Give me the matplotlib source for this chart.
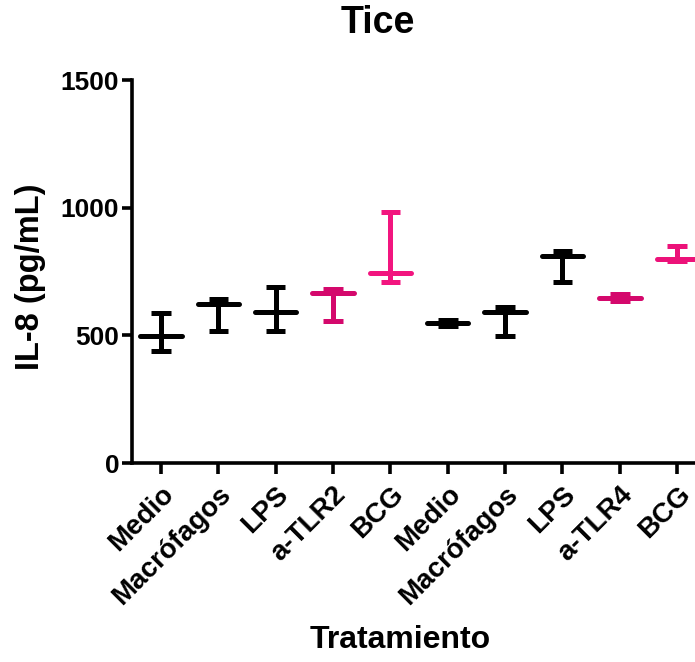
import numpy as np
import matplotlib.pyplot as plt

plt.rcParams['font.family'] = ['Liberation Sans', 'DejaVu Sans']
plt.rcParams['font.weight'] = 'bold'

# min / median / max per treatment
labels = ['Medio', 'Macrófagos', 'LPS', 'a-TLR2', 'BCG',
          'Medio', 'Macrófagos', 'LPS', 'a-TLR4', 'BCG']
mins = [439, 517, 517, 555, 708, 535, 497, 709, 635, 790]
medians = [499, 623, 593, 665, 743, 548, 591, 813, 648, 800]
maxs = [586, 642, 688, 681, 982, 562, 610, 829, 662, 851]
colors = ['black', 'black', 'black', '#D4086C', '#F2157F',
          'black', 'black', 'black', '#D4086C', '#EC1279']

fig = plt.figure(figsize=(6.95, 6.62), dpi=100)
ax = fig.add_axes([0.1895, 0.3006, 0.8105, 0.5783])

x = np.arange(len(labels))
lw = 3.6
for i in x:
    c = colors[i]
    ax.plot([i, i], [mins[i], maxs[i]], color=c, lw=lw, solid_capstyle='butt')
    for v in (mins[i], maxs[i]):
        ax.plot([i - 0.17, i + 0.17], [v, v], color=c, lw=lw, solid_capstyle='butt')
    ax.plot([i - 0.36, i + 0.36], [medians[i], medians[i]], color=c, lw=lw,
            solid_capstyle='round')

ax.set_xlim(-0.51, 9.31)
ax.set_ylim(0, 1500)
ax.set_yticks([0, 500, 1000, 1500])
ax.set_xticks(x)
ax.set_xticklabels(labels, rotation=45, ha='right', va='top', rotation_mode='anchor')

for s in ['top', 'right']:
    ax.spines[s].set_visible(False)
for s in ['left', 'bottom']:
    ax.spines[s].set_linewidth(2.6)
ax.tick_params(axis='both', width=2.6, length=7, labelsize=19)
ax.tick_params(axis='y', pad=2)
ax.tick_params(axis='x', length=8, pad=5, labelsize=20)

ax.set_ylabel('IL-8 (pg/mL)', fontsize=23.5, fontweight='bold', va='center')
ax.yaxis.set_label_coords(-0.18, 0.486)
ax.set_xlabel('Tratamiento', fontsize=23, fontweight='bold', va='center')
ax.xaxis.set_label_coords(0.476, -0.462)
fig.text(0.544, 0.965, 'Tice', fontsize=27, fontweight='bold', ha='center', va='center')

fig.savefig('out.png', dpi=100)
